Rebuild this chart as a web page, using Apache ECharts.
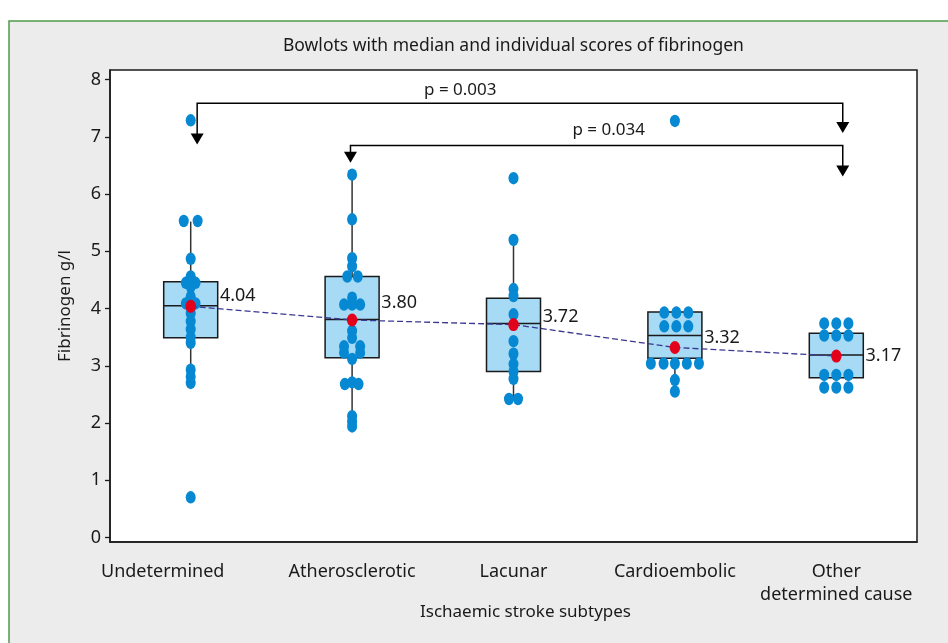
<!DOCTYPE html>
<html><head><meta charset="utf-8">
<script src="https://cdn.jsdelivr.net/npm/echarts@6/dist/echarts.min.js"></script>
<style>html,body{margin:0;padding:0;background:#fff}#c{width:948px;height:643px}</style>
</head><body><div id="c"></div>
<script>
// ---- data ----
const categories = ['Undetermined', 'Atherosclerotic', 'Lacunar', 'Cardioembolic', 'Other\ndetermined cause'];
const yTicks = [0, 1, 2, 3, 4, 5, 6, 7, 8];
const whiskerLow  = [2.68, 1.95, 2.42, 2.56, 2.79];
const q1          = [3.49, 3.14, 2.90, 3.13, 2.79];
const median      = [4.05, 3.81, 3.74, 3.53, 3.19];
const q3          = [4.47, 4.56, 4.18, 3.94, 3.57];
const whiskerHigh = [5.52, 6.33, 5.20, 3.94, 3.57];
const means       = [4.04, 3.80, 3.72, 3.32, 3.17];
// individual scores: [horizontal jitter (category units), fibrinogen g/l]
const dotsUndetermined = [[0,7.29],[-0.043,5.53],[0.043,5.53],[0,4.87],[0,4.56],[-0.03,4.45],[0.03,4.45],[0,4.38],
  [0,4.21],[-0.03,4.09],[0.03,4.09],[0,3.92],[0,3.78],[0,3.64],[0,3.5],[0,3.4],[0,2.93],[0,2.81],[0,2.7],[0,0.7]];
const dotsAtherosclerotic = [[0,6.34],[0,5.56],[0,4.88],[0,4.74],[-0.03,4.56],[0.035,4.56],[0,4.19],[-0.05,4.07],[0,4.07],
  [0.05,4.07],[0,3.61],[0,3.49],[-0.05,3.34],[0.05,3.34],[-0.05,3.23],[0.05,3.23],[0,3.12],
  [-0.045,2.68],[0,2.71],[0.04,2.68],[0,2.12],[0,2.02],[0,1.94]];
const dotsLacunar = [[0,6.28],[0,5.2],[0,4.34],[0,4.22],[0,3.9],[0,3.43],[0,3.21],[0,3.03],[0,2.9],[0,2.77],
  [-0.028,2.42],[0.028,2.42]];
const dotsCardioembolic = [[0,7.28],[-0.066,3.93],[0.009,3.93],[0.083,3.93],[-0.066,3.69],[0.009,3.69],[0.083,3.69],
  [-0.149,3.04],[-0.07,3.04],[0,3.04],[0.074,3.04],[0.149,3.04],[0,2.75],[0,2.55]];
const dotsOther = [[-0.075,3.74],[0,3.74],[0.075,3.74],[-0.075,3.53],[0,3.53],[0.075,3.53],
  [-0.075,2.84],[0,2.84],[0.075,2.84],[-0.075,2.62],[0,2.62],[0.075,2.62]];
const pLabels = ['p = 0.003', 'p = 0.034'];
const bracketStart = [0.04, 0.99];
const bracketEnd = [4.04, 4.04];
const bracketLevel = [7.59, 6.85];
const bracketTipStart = [6.87, 6.55];
const bracketTipEnd = [7.07, 6.31];
const pLabelX = [1.67, 2.59];
const pLabelY = [7.82, 7.12];

// ---- styling ----
const FONT = 'Noto Sans';
const INK = '#1a1a1a';
const meanLabelDy = [-10, -17, -8, -10, 0];
const ellipse = 'path://M50,0 A50,50 0 1,1 50,100 A50,50 0 1,1 50,0 Z';

const groups = [dotsUndetermined, dotsAtherosclerotic, dotsLacunar, dotsCardioembolic, dotsOther];
const dotData = [];
groups.forEach((g, i) => g.forEach(([dx, y]) => dotData.push([i + dx, y])));

const option = {
  backgroundColor: '#ffffff',
  animation: false,
  textStyle: { fontFamily: FONT },
  graphic: [{
    type: 'rect', z: -10, silent: true,
    shape: { x: 9, y: 21, width: 960, height: 640 },
    style: { fill: '#ececec', stroke: '#4f9a49', lineWidth: 1.5 }
  }],
  title: {
    text: 'Bowlots with median and individual scores of fibrinogen',
    left: 283, top: 37, padding: 0,
    textStyle: { fontSize: 17.5, fontWeight: 'normal', color: INK, fontFamily: FONT }
  },
  grid: { left: 110, right: 31, top: 70, bottom: 101, show: true, backgroundColor: '#ffffff', borderColor: INK, borderWidth: 1.5 },
  xAxis: [{
    type: 'category', data: categories, boundaryGap: true,
    axisLine: { onZero: false, lineStyle: { color: INK, width: 1.5 } },
    axisTick: { alignWithLabel: true, length: 7, lineStyle: { color: INK, width: 1.3 } },
    axisLabel: {
      interval: 0, margin: 18, fontSize: 18, lineHeight: 23, color: INK, fontFamily: FONT,
      formatter: (v, i) => i === 0 ? '{u|' + v + '}' : v,
      rich: { u: { padding: [0, 56, 0, 0], fontSize: 18, lineHeight: 23, color: INK, fontFamily: FONT } }
    },
    name: 'Ischaemic stroke subtypes', nameLocation: 'middle', nameGap: 62, nameMoveOverlap: false,
    nameTextStyle: { fontSize: 17, color: INK, fontFamily: FONT, padding: [0, 0, 0, 24] }
  }, {
    type: 'value', min: -0.5, max: 4.5, show: false
  }],
  yAxis: {
    type: 'value', min: -0.08, max: 8.17,
    name: 'Fibrinogen g/l', nameLocation: 'middle', nameGap: 36, nameMoveOverlap: false,
    nameTextStyle: { fontSize: 17, color: INK, fontFamily: FONT },
    axisLine: { show: true, onZero: false, lineStyle: { color: INK, width: 1.5 } },
    axisTick: { show: true, customValues: yTicks, length: 5, lineStyle: { color: INK, width: 1.3 } },
    axisLabel: { customValues: yTicks, margin: 9, fontSize: 18, color: INK, fontFamily: FONT },
    splitLine: { show: false }
  },
  series: [
    {
      type: 'custom', xAxisIndex: 1, z: 2,
      data: categories.map((c, i) => [i, whiskerLow[i], q1[i], median[i], q3[i], whiskerHigh[i]]),
      renderItem: (params, api) => {
        const x = api.value(0);
        const pLo = api.coord([x, api.value(1)]);
        const pQ1 = api.coord([x, api.value(2)]);
        const pMed = api.coord([x, api.value(3)]);
        const pQ3 = api.coord([x, api.value(4)]);
        const pHi = api.coord([x, api.value(5)]);
        const hw = 27, cx = pQ1[0];
        const st = { stroke: INK, lineWidth: 1.5 };
        return { type: 'group', children: [
          { type: 'line', shape: { x1: cx, y1: pQ1[1], x2: cx, y2: pLo[1] }, style: { stroke: '#333', lineWidth: 1.5 } },
          { type: 'line', shape: { x1: cx, y1: pQ3[1], x2: cx, y2: pHi[1] }, style: { stroke: '#333', lineWidth: 1.5 } },
          { type: 'rect', shape: { x: cx - hw, y: pQ3[1], width: 2 * hw, height: pQ1[1] - pQ3[1] }, style: { fill: '#a6daf5', stroke: INK, lineWidth: 1.5 } },
          { type: 'line', shape: { x1: cx - hw, y1: pMed[1], x2: cx + hw, y2: pMed[1] }, style: st }
        ] };
      }
    },
    {
      type: 'scatter', xAxisIndex: 1, z: 3, data: dotData,
      symbol: ellipse, symbolSize: [10, 12.5], symbolKeepAspect: false,
      itemStyle: { color: '#0688d2', opacity: 1 }
    },
    {
      type: 'line', xAxisIndex: 1, z: 4, data: means.map((m, i) => [i, m]),
      symbol: 'none', lineStyle: { color: '#3b3792', width: 1.3, type: [6, 3] }
    },
    {
      type: 'scatter', xAxisIndex: 1, z: 5,
      data: means.map((m, i) => ({ value: [i, m], label: { offset: [0, meanLabelDy[i]] } })),
      symbol: ellipse, symbolSize: [10.5, 13],
      itemStyle: { color: '#e3001b', opacity: 1 },
      label: {
        show: true, position: 'right', distance: 24, fontSize: 18, color: INK, fontFamily: FONT,
        formatter: p => means[p.dataIndex].toFixed(2)
      }
    },
    {
      type: 'custom', xAxisIndex: 1, z: 6,
      data: pLabels.map((t, i) => [bracketStart[i], bracketEnd[i], bracketLevel[i], bracketTipStart[i], bracketTipEnd[i], pLabelX[i], pLabelY[i]]),
      renderItem: (params, api) => {
        const a = api.coord([api.value(0), api.value(2)]);
        const b = api.coord([api.value(1), api.value(2)]);
        const ta = api.coord([api.value(0), api.value(3)]);
        const tb = api.coord([api.value(1), api.value(4)]);
        const tp = api.coord([api.value(5), api.value(6)]);
        const aw = 6.5, ah = 11;
        const arrow = (p) => ({ type: 'polygon', shape: { points: [[p[0] - aw, p[1] - ah], [p[0] + aw, p[1] - ah], [p[0], p[1]]] }, style: { fill: '#000' } });
        return { type: 'group', children: [
          { type: 'polyline', shape: { points: [[ta[0], ta[1] - ah + 1], a, b, [tb[0], tb[1] - ah + 1]] }, style: { stroke: '#000', lineWidth: 1.5, fill: null } },
          arrow(ta), arrow(tb),
          { type: 'text', style: { text: pLabels[params.dataIndex], x: tp[0], y: tp[1], align: 'center', verticalAlign: 'middle', fontSize: 17, fontFamily: FONT, fill: INK } }
        ] };
      }
    }
  ]
};
const chart = echarts.init(document.getElementById('c'), null, { renderer: 'canvas' });
chart.setOption(option);
</script>
</body></html>
